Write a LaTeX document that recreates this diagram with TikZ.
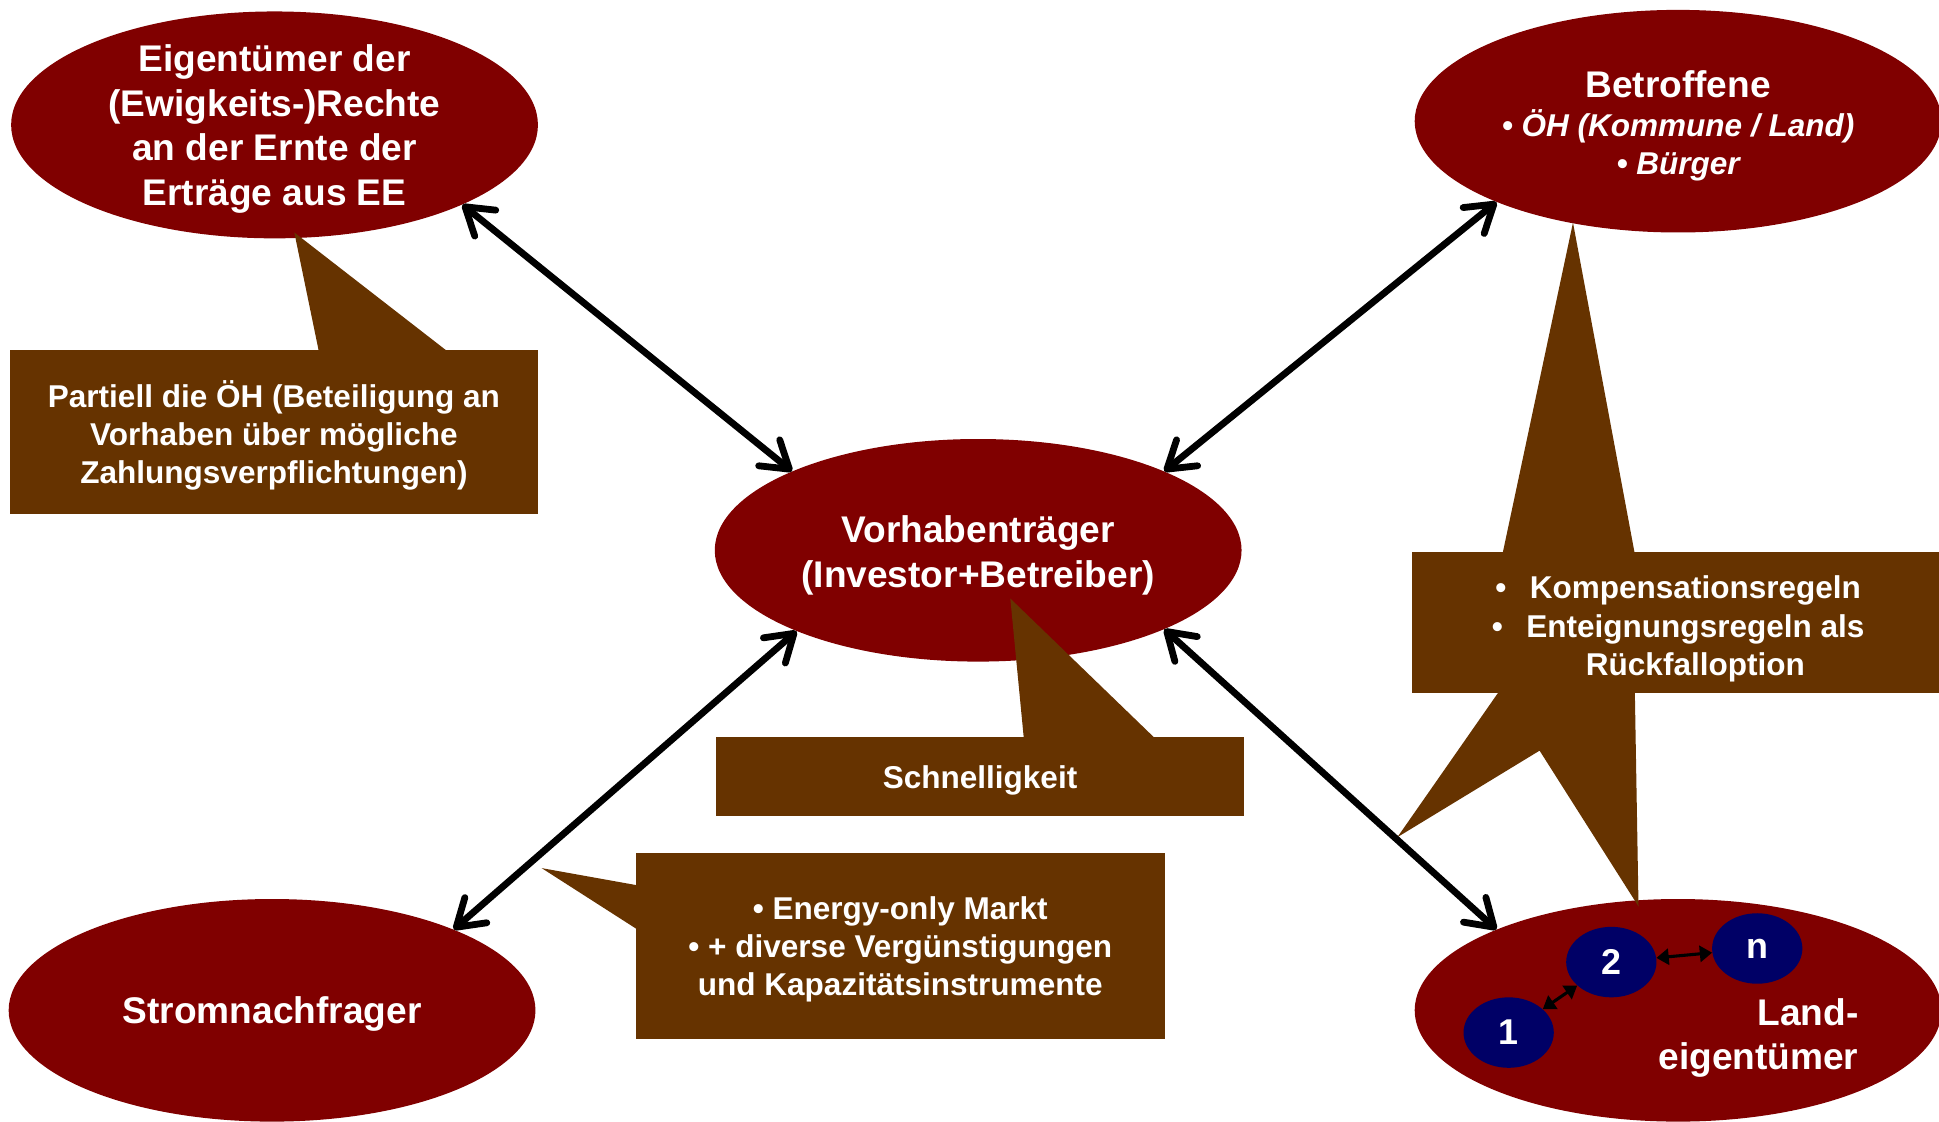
\documentclass[tikz,border=0pt]{standalone}
\usepackage{fontspec}
\setmainfont{Liberation Sans}
\usetikzlibrary{shapes.geometric,arrows.meta}
\definecolor{ovalred}{HTML}{800000}
\definecolor{notebrown}{HTML}{663300}
\definecolor{ownerblue}{HTML}{000066}

\begin{document}
\begin{tikzpicture}[x=1pt,y=-1pt,
  actor/.style={ellipse, fill=ovalred, minimum width=426pt, minimum height=180pt,
    inner sep=0pt, text=white, align=center, text depth=0pt,
    font=\fontsize{30}{36}\selectfont\bfseries},
  labeltext/.style={inner sep=0pt, text=white, align=center,
    font=\fontsize{30}{36}\selectfont\bfseries},
  notebox/.style={rectangle, fill=notebrown, inner sep=0pt, text=white, align=center,
    text depth=0pt, font=\fontsize{25.5}{31}\selectfont\bfseries},
  notetext/.style={inner sep=0pt, text=white, align=center,
    font=\fontsize{25.5}{31}\selectfont\bfseries},
  notetail/.style={fill=notebrown},
  relation/.style={line width=5.5pt,
    {Straight Barb[length=21pt,width=27pt,round]}-{Straight Barb[length=21pt,width=27pt,round]}},
  parcel/.style={ellipse, fill=ownerblue, minimum width=73pt, minimum height=57pt,
    inner sep=0pt, text=white, text depth=0pt, font=\fontsize{29}{34}\selectfont\bfseries},
  parcellink/.style={line width=2.5pt,
    {Triangle[length=10pt,width=13pt]}-{Triangle[length=10pt,width=13pt]}}
]
\useasboundingbox (0,0) rectangle (1568,907);

% actors
\node[actor] (owners) at (222,101) {Eigentümer der\\(Ewigkeits-)Rechte\\an der Ernte der\\Erträge aus EE};
\node[actor] (affected) at (1357,98) {};
\node[labeltext, anchor=base] (affTitle) at (1357,79) {Betroffene};
\node[notetext, anchor=base, font=\fontsize{25.5}{31}\selectfont\bfseries\itshape] (affList) at (1357,141)
  {• ÖH (Kommune / Land)\\• Bürger};
\node[actor] (developer) at (791,445) {\rule{0pt}{0pt}\raisebox{-2pt}{Vorhabenträger}\\\raisebox{-2pt}{(Investor+Betreiber)}};
\node[actor] (demand) at (220,817) {Stromnachfrager};
\node[actor] (land) at (1357,817) {};
\node[labeltext, anchor=base east, align=right] (landText) at (1503,865) {Land-\\eigentümer};

% callout: owners
\fill[notetail] (258,285) -- (238,188) -- (363,285) -- cycle;
\node[notebox, minimum width=427pt, minimum height=133pt] (noteOwners) at (221.5,349.5)
  {Partiell die ÖH (Beteiligung an\\Vorhaben über mögliche\\Zahlungsverpflichtungen)};

% callout: affected persons and land owners
\fill[notetail] (1215,448) -- (1272,180) -- (1322,448) -- cycle;
\fill[notetail] (1213,558) -- (1130,677) -- (1245,607) -- (1325,733) -- (1322,558) -- cycle;
\node[notebox, minimum width=426pt, minimum height=114pt] (noteRules) at (1355,503) {};
\node[notetext, text depth=0pt] (rulesText) at (1371,506)
  {\llap{•\hspace{19pt}}Kompensationsregeln\\\llap{•\hspace{19pt}}Enteignungsregeln als\\Rückfalloption};

% callout: developer
\fill[notetail] (828,598) -- (817,484) -- (935,598) -- cycle;
\node[notebox, minimum width=427pt, minimum height=64pt] (noteSpeed) at (792.5,628) {Schnelligkeit};

% callout: market
\fill[notetail] (516,716) -- (438,702) -- (516,752) -- cycle;
\node[notebox, minimum width=428pt, minimum height=150pt] (noteMarket) at (728,765)
  {• Energy-only Markt\\• + diverse Vergünstigungen\\und Kapazitätsinstrumente};

% relations
\draw[relation] (owners.-23) -- (developer.157);
\draw[relation] (affected.-156.5) -- (developer.23);
\draw[relation] (developer.-156) -- (demand.24);
\draw[relation] (developer.-23.5) -- (land.156);

% individual land parcels
\node[parcel] (p1) at (1220,835) {1};
\node[parcel] (p2) at (1303,778) {2};
\node[parcel] (pn) at (1421,767) {n};
\draw[parcellink] (p1) -- (p2);
\draw[parcellink] (p2) -- (pn);
\end{tikzpicture}
\end{document}
